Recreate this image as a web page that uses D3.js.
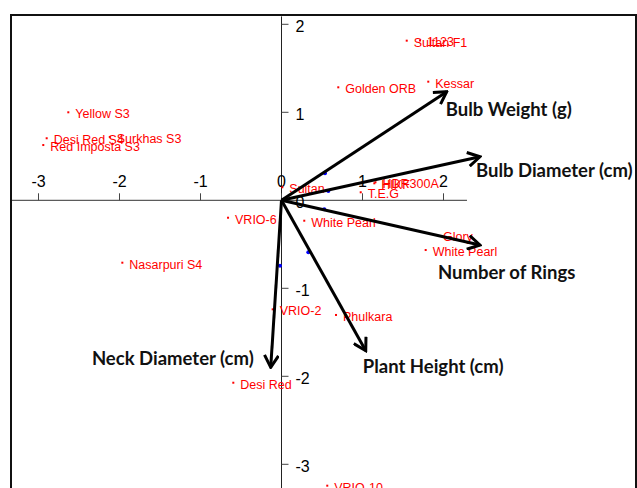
<!DOCTYPE html>
<html>
<head>
<meta charset="utf-8">
<script src="https://cdn.jsdelivr.net/npm/d3@7"></script>
<style>
  body { margin: 0; background: #fff; }
  svg { display: block; }
</style>
</head>
<body>
<svg id="chart"></svg>
<script>
// cultivar scores (PC1, PC2)
const cultivars = ["Sultan F1", "1123", "Kessar", "Golden ORB", "Yellow S3", "Desi Red S4", "Surkhas S3",
  "Red Imposta S3", "VRIO-6", "Sultan", "White Pearl", "HIKF", "HDR300A", "T.E.G", "Glory", "White Pearl",
  "Nasarpuri S4", "VRIO-2", "Phulkara", "Desi Red", "VRIO-10"];
const pc1 = [1.546, 1.71, 1.812, 0.701, -2.632, -2.899, -2.12, -2.941, -0.660, 0.010, 0.281, 1.146, 1.16,
  0.978, 1.907, 1.780, -1.965, -0.109, 0.673, -0.595, 0.565];
const pc2 = [1.814, 1.816, 1.348, 1.284, 1.000, 0.705, 0.72, 0.628, -0.198, 0.148, -0.232, 0.193, 0.205,
  0.091, -0.394, -0.565, -0.709, -1.239, -1.303, -2.073, -3.243];

// variable vectors
const variables = ["Bulb Weight (g)", "Bulb Diameter (cm)", "Number of Rings", "Plant Height (cm)", "Neck Diameter (cm)"];
const arrowX = [2.04, 2.45, 2.45, 1.04, -0.133];
const arrowY = [1.234, 0.495, -0.508, -1.709, -1.898];
const loadX = [0.537, 0.578, 0.528, 0.331, -0.019];
const loadY = [0.307, 0.106, -0.102, -0.591, -0.743];

const xTicks = [-3, -2, -1, 0, 1, 2];
const yTicks = [-3, -2, -1, 0, 1, 2];

// label placement relative to arrow tips (px)
const labelDx = [-1, -4, -42, -3, -17];
const labelDy = [24, 20, 34, 22, -2];
const labelAnchor = ["start", "start", "start", "start", "end"];

class Biplot {
  constructor(_config) {
    this.config = {
      parentElement: _config.parentElement,
      containerWidth: _config.containerWidth || 637,
      containerHeight: _config.containerHeight || 488
    };
    this.initVis();
  }

  initVis() {
    let vis = this;

    vis.svg = d3.select(vis.config.parentElement)
        .attr('width', vis.config.containerWidth)
        .attr('height', vis.config.containerHeight);

    vis.x = d3.scaleLinear().domain([-3, 2]).range([38.5, 443.5]);
    vis.y = d3.scaleLinear().domain([-3, 2]).range([464.3, 24.3]);

    vis.svg.append('defs').append('marker')
        .attr('id', 'head')
        .attr('viewBox', '-13 -8 15 16')
        .attr('refX', 0).attr('refY', 0)
        .attr('markerWidth', 15).attr('markerHeight', 16)
        .attr('markerUnits', 'userSpaceOnUse')
        .attr('orient', 'auto')
      .append('path')
        .attr('d', 'M-12,-7L0,0L-12,7')
        .attr('fill', 'none')
        .attr('stroke', '#000')
        .attr('stroke-width', 3);

    vis.chart = vis.svg.append('g');
    vis.renderVis();
  }

  renderVis() {
    let vis = this;
    const x0 = vis.x(0), y0 = vis.y(0);

    // frame
    vis.chart.append('rect')
        .attr('x', 11).attr('y', 15)
        .attr('width', 625).attr('height', 490)
        .attr('fill', 'none')
        .attr('stroke', '#111')
        .attr('stroke-width', 2);

    // axes through origin
    vis.chart.append('line')
        .attr('x1', 12).attr('x2', vis.x(2.29))
        .attr('y1', y0).attr('y2', y0)
        .attr('stroke', '#333');
    vis.chart.append('line')
        .attr('x1', x0).attr('x2', x0)
        .attr('y1', vis.y(2.09)).attr('y2', 495)
        .attr('stroke', '#222');

    vis.chart.selectAll('.xtick')
      .data(xTicks)
      .join('line')
        .attr('class', 'xtick')
        .attr('x1', d => vis.x(d)).attr('x2', d => vis.x(d))
        .attr('y1', y0).attr('y2', y0 - 7)
        .attr('stroke', '#444');
    vis.chart.selectAll('.xlab')
      .data(xTicks)
      .join('text')
        .attr('class', 'xlab')
        .attr('x', d => vis.x(d))
        .attr('y', y0 - 13)
        .attr('text-anchor', 'middle')
        .attr('font-family', 'Liberation Sans, Arial, sans-serif')
        .attr('font-size', '16px')
        .text(d => d);

    vis.chart.selectAll('.ytick')
      .data(yTicks)
      .join('line')
        .attr('class', 'ytick')
        .attr('x1', x0).attr('x2', x0 + 7)
        .attr('y1', d => vis.y(d)).attr('y2', d => vis.y(d))
        .attr('stroke', '#444');
    vis.chart.selectAll('.ylab')
      .data(yTicks)
      .join('text')
        .attr('class', 'ylab')
        .attr('x', x0 + 14)
        .attr('y', d => vis.y(d) + 8)
        .attr('font-family', 'Liberation Sans, Arial, sans-serif')
        .attr('font-size', '16px')
        .text(d => d);

    // cultivar points and names
    const pts = cultivars.map((c, i) => ({ name: c, x: pc1[i], y: pc2[i] }));
    vis.chart.selectAll('.pt')
      .data(pts)
      .join('rect')
        .attr('class', 'pt')
        .attr('x', d => vis.x(d.x) - 1)
        .attr('y', d => vis.y(d.y) - 1)
        .attr('width', 2).attr('height', 2)
        .attr('fill', '#ff0000');
    vis.chart.selectAll('.ptlab')
      .data(pts)
      .join('text')
        .attr('class', 'ptlab')
        .attr('x', d => vis.x(d.x) + 7)
        .attr('y', d => vis.y(d.y) + 6)
        .attr('font-family', 'Liberation Sans, Arial, sans-serif')
        .attr('font-size', '12.5px')
        .attr('fill', '#ff0000')
        .text(d => d.name);

    // variable vectors
    const vars = variables.map((v, i) => ({ name: v, x: arrowX[i], y: arrowY[i], lx: loadX[i], ly: loadY[i], i: i }));
    vis.chart.selectAll('.load')
      .data(vars)
      .join('circle')
        .attr('class', 'load')
        .attr('cx', d => vis.x(d.lx))
        .attr('cy', d => vis.y(d.ly))
        .attr('r', 2)
        .attr('fill', '#0000ff');
    vis.chart.selectAll('.arrow')
      .data(vars)
      .join('line')
        .attr('class', 'arrow')
        .attr('x1', x0).attr('y1', y0)
        .attr('x2', d => vis.x(d.x))
        .attr('y2', d => vis.y(d.y))
        .attr('stroke', '#000')
        .attr('stroke-width', 3)
        .attr('marker-end', 'url(#head)');
    vis.chart.selectAll('.varlab')
      .data(vars)
      .join('text')
        .attr('class', 'varlab')
        .attr('x', d => vis.x(d.x) + labelDx[d.i])
        .attr('y', d => vis.y(d.y) + labelDy[d.i])
        .attr('text-anchor', d => labelAnchor[d.i])
        .attr('font-family', 'Lato, sans-serif')
        .attr('font-weight', 'bold')
        .attr('font-size', '18.5px')
        .attr('fill', '#111')
        .text(d => d.name);
  }
}

let biplot = new Biplot({ parentElement: '#chart' });
</script>
</body>
</html>
